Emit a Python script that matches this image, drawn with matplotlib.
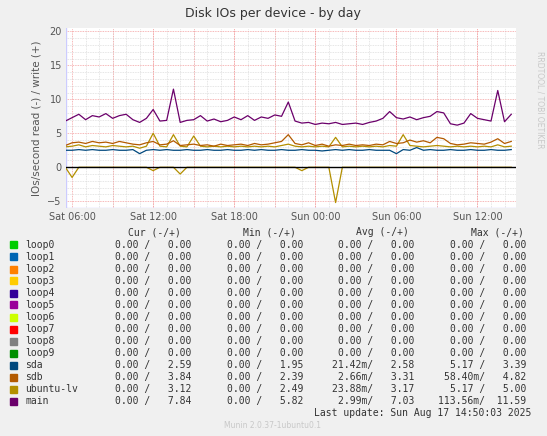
import numpy as np
import matplotlib
matplotlib.use("Agg")
import matplotlib.pyplot as plt
from matplotlib.ticker import MultipleLocator

# hours since Sat 00:00, half-hour samples
hours = np.arange(5.5, 39.0, 0.5)

main_w = [6.8,7.3,7.8,7.0,7.6,7.4,7.9,7.2,7.6,7.8,
          7.0,6.6,7.2,8.5,6.8,6.9,11.5,6.6,6.9,7.0,
          7.6,6.8,7.1,6.7,6.9,7.4,7.0,7.6,6.9,7.4,
          7.2,7.7,7.5,9.6,6.8,6.5,6.6,6.3,6.5,6.4,
          6.6,6.3,6.4,6.5,6.3,6.6,6.8,7.2,8.2,7.3,
          7.1,7.4,7.0,7.3,7.5,8.2,8.0,6.4,6.2,6.5,
          7.9,7.2,7.0,6.8,11.3,6.7,7.8]
sda_w = [2.5,2.5,2.6,2.5,2.6,2.5,2.5,2.6,2.5,2.5,
         2.6,2.0,2.5,2.6,2.5,2.6,2.5,2.5,2.6,2.5,
         2.5,2.6,2.5,2.5,2.6,2.5,2.5,2.6,2.5,2.6,
         2.5,2.5,2.6,2.5,2.5,2.6,2.5,2.5,2.4,2.5,
         2.6,2.5,2.6,2.5,2.5,2.6,2.5,2.5,2.5,2.0,
         2.6,2.5,2.9,2.5,2.6,2.5,2.5,2.6,2.5,2.5,
         2.6,2.5,2.5,2.6,2.5,2.5,2.6]
sdb_w = [3.2,3.6,3.7,3.5,3.8,3.6,3.7,3.5,3.8,3.6,
         3.4,3.3,3.6,3.8,3.3,3.4,3.9,3.2,3.3,3.4,
         3.2,3.3,3.1,3.4,3.2,3.3,3.4,3.2,3.5,3.3,
         3.4,3.6,3.8,4.8,3.5,3.3,3.6,3.2,3.4,3.1,
         3.3,3.2,3.4,3.2,3.3,3.2,3.4,3.3,3.8,3.5,
         3.6,4.0,3.7,3.9,3.6,4.4,4.2,3.5,3.3,3.4,
         3.6,3.5,3.4,3.7,4.2,3.5,3.8]
ulv_w = [3.0,3.1,3.3,3.0,3.2,3.1,3.0,3.2,3.1,3.0,
         3.1,2.8,3.1,5.0,3.1,3.0,4.8,3.1,3.0,4.6,
         3.1,3.0,3.1,3.0,3.1,3.0,3.1,3.0,3.1,3.0,
         3.1,3.0,3.2,3.4,3.1,3.0,3.1,3.0,3.1,3.0,
         4.4,3.0,3.1,3.0,3.1,3.0,3.1,3.0,3.2,3.1,
         4.8,3.2,3.1,3.0,3.1,3.2,3.1,3.0,3.1,3.0,
         3.1,3.0,3.1,3.0,3.3,3.0,3.1]
ulv_r = [0,-1.5,0,0,0,0,0,0,0,0,
         0,0,0,-0.5,0,0,0,-1.0,0,0,
         0,0,0,0,0,0,0,0,0,0,
         0,0,0,0,0,-0.5,0,0,0,0,
         -5.2,0,0,0,0,0,0,0,0,0,
         0,0,0,0,0,0,0,0,0,0,
         0,0,0,0,0,0,0]

names = ["loop0","loop1","loop2","loop3","loop4","loop5","loop6","loop7","loop8","loop9",
         "sda","sdb","ubuntu-lv","main"]
colors = ["#00CC00","#0066B3","#FF8000","#FFCC00","#330099","#990099","#CCFF00","#FF0000",
          "#808080","#008F00","#00487D","#B35A00","#B38F00","#6B006B"]
cur = ["0.00 /   0.00"]*10 + ["0.00 /   2.59","0.00 /   3.84","0.00 /   3.12","0.00 /   7.84"]
mins = ["0.00 /   0.00"]*10 + ["0.00 /   1.95","0.00 /   2.39","0.00 /   2.49","0.00 /   5.82"]
avgs = ["0.00 /   0.00"]*10 + ["21.42m/   2.58","2.66m/   3.31","23.88m/   3.17","2.99m/   7.03"]
maxs = ["0.00 /   0.00"]*10 + ["5.17 /   3.39","58.40m/   4.82","5.17 /   5.00","113.56m/  11.59"]
xticks = [6, 12, 18, 24, 30, 36]
xlabels = ["Sat 06:00","Sat 12:00","Sat 18:00","Sun 00:00","Sun 06:00","Sun 12:00"]

W, H = 547, 436
fig = plt.figure(figsize=(W/100, H/100), dpi=100, facecolor="#F0F0F0")
ax = fig.add_axes([66/W, 1-208/H, 450/W, 180/H])
ax.set_facecolor("white")
ax.set_xlim(5.55, 38.85)
ax.set_ylim(-6, 20.5)
ax.yaxis.set_major_locator(MultipleLocator(5))
ax.yaxis.set_minor_locator(MultipleLocator(1))
ax.set_xticks(xticks, xlabels)
ax.xaxis.set_minor_locator(MultipleLocator(1))
ax.grid(which="minor", color="#DDDDDD", ls=(0, (1, 1)), lw=0.6)
ax.grid(which="major", color="#F4A0A0", ls=(0, (1, 1)), lw=0.6)
ax.vlines(np.arange(9, 39, 3), -6, 20.5, colors="#F4A0A0", linestyles=(0, (1, 1)), lw=0.6)
ax.set_axisbelow(True)
for s in ax.spines.values():
    s.set_visible(False)
ax.axvline(5.55, color="#CCCCFF", lw=1)
ax.axhline(-6, color="#CCCCFF", lw=1)
ax.tick_params(which="both", length=0, labelsize=7, colors="#555555", pad=3)

ax.plot(hours, sda_w, color=colors[10], lw=0.9)
ax.plot(hours, ulv_w, color=colors[12], lw=0.9)
ax.plot(hours, sdb_w, color=colors[11], lw=0.9)
ax.plot(hours, main_w, color=colors[13], lw=0.9)
ax.plot(hours, ulv_r, color=colors[12], lw=0.9)
ax.axhline(0, color="black", lw=1, zorder=5)
ax.set_ylabel("IOs/second read (-) / write (+)", fontsize=7.5, color="#555555")

fig.text(273/W, 1-13/H, "Disk IOs per device - by day", ha="center", va="center", fontsize=9, color="#333333")
fig.text(540/W, 1-100/H, "RRDTOOL / TOBI OETIKER", rotation=270, ha="center", va="center",
         fontsize=5.5, color="#C8C8C8")

mono = dict(family="DejaVu Sans Mono", fontsize=7, color="#333333", va="center")
for x, t in [(181, "Cur (-/+)"), (296, "Min (-/+)"), (409, "Avg (-/+)"), (524, "Max (-/+)")]:
    fig.text(x/W, 1-232/H, t, ha="right", **mono)
for i, n in enumerate(names):
    y = 1-(245+12*i)/H
    fig.patches.append(plt.Rectangle((10/W, y-3.5/H), 7/W, 7/H, transform=fig.transFigure,
                                     color=colors[i], figure=fig))
    fig.text(25/W, y, n, ha="left", **mono)
    fig.text(191/W, y, cur[i], ha="right", **mono)
    fig.text(303/W, y, mins[i], ha="right", **mono)
    fig.text(414/W, y, avgs[i], ha="right", **mono)
    fig.text(526/W, y, maxs[i], ha="right", **mono)
fig.text(531/W, 1-413/H, "Last update: Sun Aug 17 14:50:03 2025", ha="right", **mono)
fig.text(273/W, 1-425/H, "Munin 2.0.37-1ubuntu0.1", ha="center", va="center", fontsize=5.5, color="#C8C8C8")

fig.savefig("out.png", dpi=100, facecolor=fig.get_facecolor())
